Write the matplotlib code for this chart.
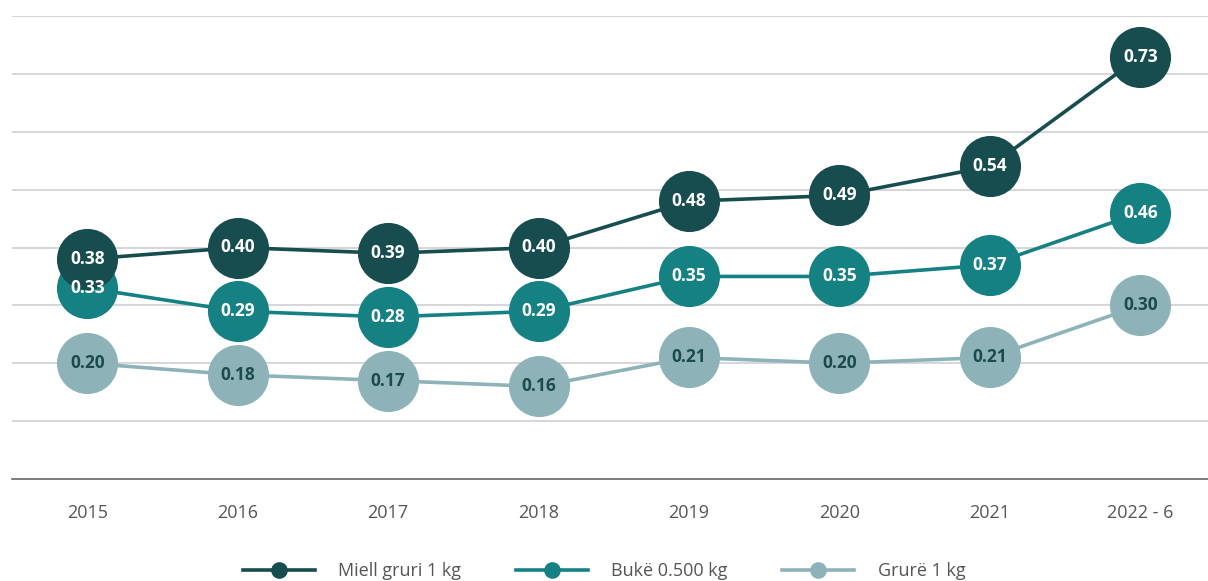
import matplotlib.pyplot as plt
from matplotlib.lines import Line2D

plt.rcParams['font.family'] = ['Open Sans', 'DejaVu Sans']

years = ["2015", "2016", "2017", "2018", "2019", "2020", "2021", "2022 - 6"]
miell = [0.38, 0.40, 0.39, 0.40, 0.48, 0.49, 0.54, 0.73]
buke = [0.33, 0.29, 0.28, 0.29, 0.35, 0.35, 0.37, 0.46]
grure = [0.20, 0.18, 0.17, 0.16, 0.21, 0.20, 0.21, 0.30]

names = ["Miell gruri 1 kg", "Bukë 0.500 kg", "Grurë 1 kg"]
colors = ["#174d4e", "#168183", "#8db3b9"]
text_colors = ["white", "white", "#1d4a4c"]

fig = plt.figure(figsize=(12.08, 5.81), dpi=100)
ax = fig.add_axes([12 / 1208, 102 / 581, 1196 / 1208, 463 / 581])

x = list(range(len(years)))
series = [grure, buke, miell]
for vals, c, tc in zip(series, colors[::-1], text_colors[::-1]):
    ax.plot(x, vals, color=c, lw=2.6, marker="o", markersize=44,
            markeredgewidth=0, zorder=3)
    for xi, v in zip(x, vals):
        ax.text(xi, v, f"{v:.2f}", ha="center", va="center", color=tc,
                fontsize=12.5, fontweight="bold", zorder=4)

ax.set_xlim(-0.5, 7.45)
ax.set_ylim(0, 0.8)
ax.set_yticks([0.1 * i for i in range(1, 9)])
ax.yaxis.grid(True, color="#cfcfd4", lw=1.2)
ax.set_axisbelow(True)
ax.tick_params(axis="y", left=False, labelleft=False)
ax.set_xticks(x)
ax.set_xticklabels(years, fontsize=13, color="#555555")
ax.tick_params(axis="x", length=0, pad=18)
for s in ["top", "right", "left"]:
    ax.spines[s].set_visible(False)
ax.spines["bottom"].set_color("#666666")
ax.spines["bottom"].set_linewidth(1.2)

handles = [Line2D([], [], color=c, lw=2.6, marker="o", markersize=12,
                  markeredgewidth=0) for c in colors]
fig.legend(handles, names, loc="center", bbox_to_anchor=(0.5, 10 / 581),
           ncol=3, frameon=False, fontsize=13, labelcolor="#555555",
           handlelength=4.0, columnspacing=3.0, handletextpad=1.3)

fig.savefig("out.png", dpi=100)
